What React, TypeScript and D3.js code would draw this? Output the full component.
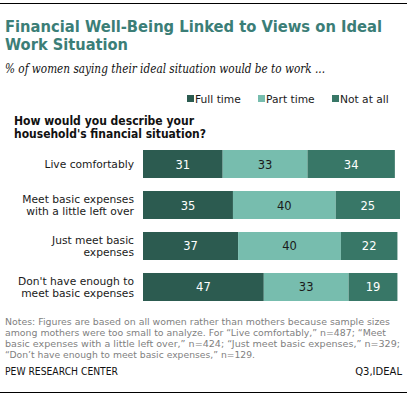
import React from 'react';
import * as d3 from 'd3';

const categories = [
  'Live comfortably',
  'Meet basic expenses with a little left over',
  'Just meet basic expenses',
  "Don't have enough to meet basic expenses",
];
const categoryLines = [
  ['Live comfortably'],
  ['Meet basic expenses', 'with a little left over'],
  ['Just meet basic', 'expenses'],
  ["Don't have enough to", 'meet basic expenses'],
];
const seriesNames = ['Full time', 'Part time', 'Not at all'];
const fullTime = [31, 35, 37, 47];
const partTime = [33, 40, 40, 33];
const notAtAll = [34, 25, 22, 19];

const colors = ['#2c5b50', '#77bdae', '#387767'];
const labelColors = ['#ffffff', '#1a1a1a', '#ffffff'];

const noteLines = [
  'Notes: Figures are based on all women rather than mothers because sample sizes',
  'among mothers were too small to analyze. For \u201cLive comfortably,\u201d n=487; \u201cMeet',
  'basic expenses with a little left over,\u201d n=424; \u201cJust meet basic expenses,\u201d n=329;',
  '\u201cDon\u2019t have enough to meet basic expenses,\u201d n=129.',
];
// widths of the note lines in the original layout
const noteWidths = [385, 381, 395, 250];

const SANS = '"DejaVu Sans", Verdana, sans-serif';

export default function App() {
  const W = 411;
  const H = 397;

  const x = d3.scaleLinear().domain([0, 100]).range([143, 400]);
  const y = d3.scaleBand<string>().domain(categories).range([150, 301]).paddingInner(0.317).paddingOuter(0);

  const series = [fullTime, partTime, notAtAll];
  const rows = categories.map((c, i) => {
    let acc = 0;
    return series.map((s, k) => {
      const start = acc;
      acc += s[i];
      return { cat: c, k, v: s[i], x0: start, x1: acc };
    });
  });

  const legendX = [187, 258, 332];

  return (
    <svg width={W} height={H} style={{ position: 'absolute', left: 0, top: 0, background: '#fff' }}>
      <line x1={0} x2={407} y1={3.5} y2={3.5} stroke="#000" strokeWidth={1} />
      <text x={5} y={32} fontFamily={SANS} fontWeight="bold" fontSize={16} fill="#3b7e77" textLength={377} lengthAdjust="spacingAndGlyphs">
        Financial Well-Being Linked to Views on Ideal
      </text>
      <text x={5} y={50} fontFamily={SANS} fontWeight="bold" fontSize={16} fill="#3b7e77" textLength={123} lengthAdjust="spacingAndGlyphs">
        Work Situation
      </text>
      <text x={5} y={73} fontFamily='"DejaVu Serif", Georgia, serif' fontStyle="italic" fontSize={12} fill="#111" textLength={320} lengthAdjust="spacingAndGlyphs">
        % of women saying their ideal situation would be to work ...
      </text>

      {seriesNames.map((n, k) => (
        <g key={n}>
          <rect x={legendX[k]} y={95} width={7} height={7} fill={colors[k]} />
          <text x={legendX[k] + 8} y={102.5} fontFamily={SANS} fontSize={10.7} fill="#1a1a1a">
            {n}
          </text>
        </g>
      ))}

      <text x={14} y={125} fontFamily={SANS} fontWeight="bold" fontSize={11.5} fill="#111" textLength={180} lengthAdjust="spacingAndGlyphs">
        How would you describe your
      </text>
      <text x={14} y={137.5} fontFamily={SANS} fontWeight="bold" fontSize={11.5} fill="#111" textLength={192} lengthAdjust="spacingAndGlyphs">
        household's financial situation?
      </text>

      {rows.map((segs, i) => {
        const cy = (y(categories[i]) as number) + y.bandwidth() / 2;
        const lines = categoryLines[i];
        return (
          <g key={categories[i]}>
            {lines.map((l, j) => (
              <text
                key={l}
                x={134}
                y={cy + 4 + (j - (lines.length - 1) / 2) * 12.5}
                textAnchor="end"
                fontFamily={SANS}
                fontSize={10.7}
                fill="#1a1a1a"
              >
                {l}
              </text>
            ))}
            {segs.map((s) => (
              <g key={s.k}>
                <rect
                  x={x(s.x0)}
                  y={y(s.cat)}
                  width={x(s.x1) - x(s.x0)}
                  height={y.bandwidth()}
                  fill={colors[s.k]}
                />
                <text
                  x={(x(s.x0) + x(s.x1)) / 2}
                  y={cy + 4.5}
                  textAnchor="middle"
                  fontFamily={SANS}
                  fontSize={11.5}
                  fill={labelColors[s.k]}
                >
                  {s.v}
                </text>
              </g>
            ))}
          </g>
        );
      })}

      {noteLines.map((l, i) => (
        <text key={i} x={5} y={325 + i * 11} fontFamily={SANS} fontSize={9.5} fill="#7f7f7f" textLength={noteWidths[i]} lengthAdjust="spacingAndGlyphs">
          {l}
        </text>
      ))}
      <text x={5} y={375} fontFamily={SANS} fontSize={10} fill="#111" textLength={113} lengthAdjust="spacingAndGlyphs">
        PEW RESEARCH CENTER
      </text>
      <text x={402} y={375} textAnchor="end" fontFamily={SANS} fontSize={10} fill="#111">
        Q3,IDEAL
      </text>
      <line x1={0} x2={407} y1={392.5} y2={392.5} stroke="#000" strokeWidth={1} />
    </svg>
  );
}
